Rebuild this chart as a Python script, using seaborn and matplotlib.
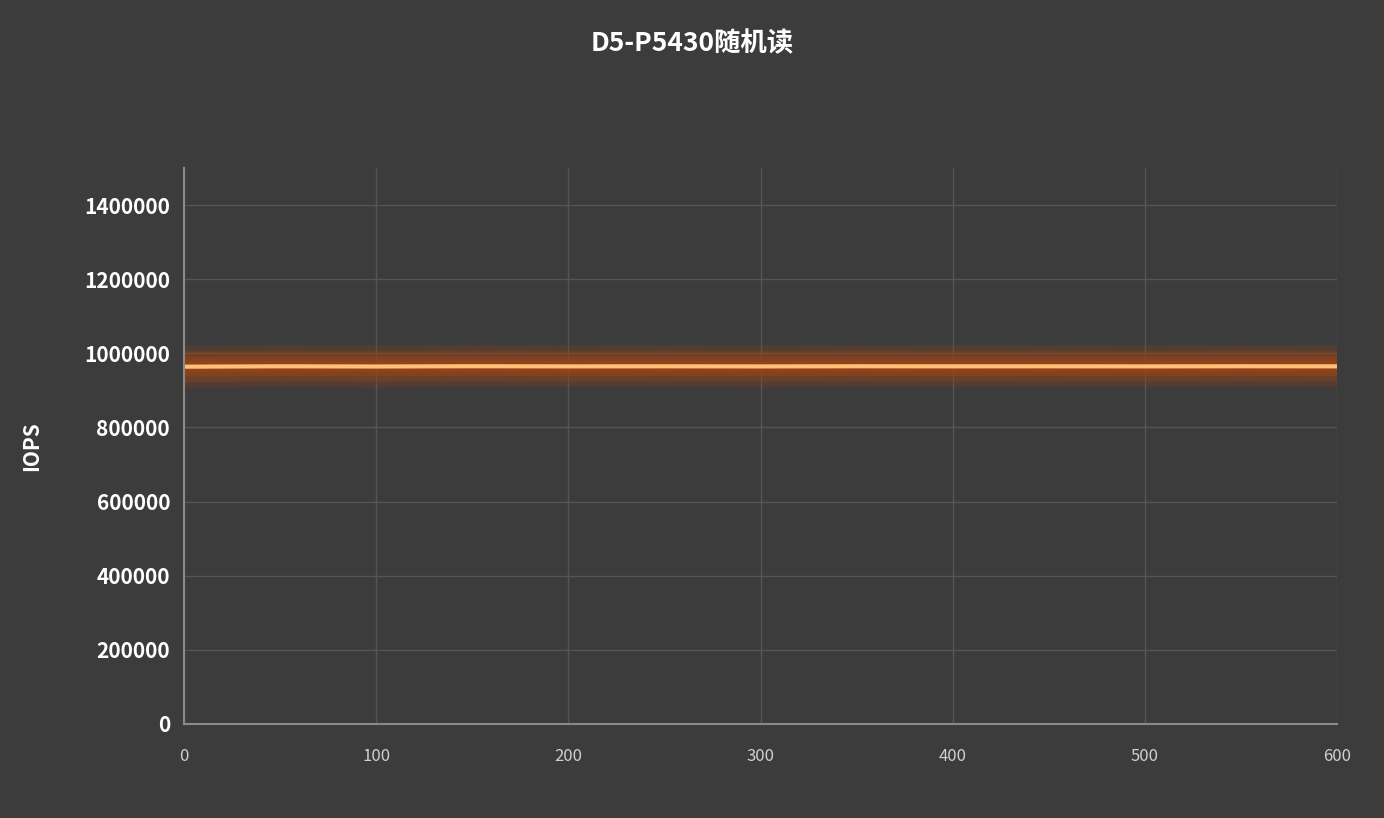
import matplotlib
matplotlib.use("Agg")
from matplotlib import pyplot as plt
import seaborn as sns
import pandas as pd

# time [s] and IOPS (flat line around 965k)
seconds = [0, 50, 100, 150, 200, 250, 300, 350, 400, 450, 500, 550, 600]
iops = [964000, 965000, 964500, 965200, 964800, 965000, 964700, 965100,
        964900, 965000, 964800, 965100, 964900]
yticks = [0, 200000, 400000, 600000, 800000, 1000000, 1200000, 1400000]
xticks = [0, 100, 200, 300, 400, 500, 600]

data = pd.DataFrame({'t': seconds, 'iops': iops})

sns.set_style('dark')
bg = '#3c3c3c'
plt.rcParams['font.family'] = ['Noto Sans CJK SC', 'DejaVu Sans']

fig = plt.figure(figsize=(13.84, 8.18), dpi=100, facecolor=bg)
ax = fig.add_axes([184/1384, 94/818, (1337-184)/1384, (724-168)/818])
ax.set_facecolor(bg)

# glow
for lw, a in [(30, 0.25), (22, 0.35), (14, 0.5), (8, 0.7)]:
    sns.lineplot(x='t', y='iops', data=data, ax=ax, color='#9a4318',
                 lw=lw, alpha=a, solid_capstyle='butt')
sns.lineplot(x='t', y='iops', data=data, ax=ax, color='#ffc078', lw=3)

ax.set_xlim(0, 600)
ax.set_ylim(0, 1500000)
ax.set_xticks(xticks)
ax.set_yticks(yticks)
ax.set_xticklabels([str(x) for x in xticks], color='#d0d0d0', fontsize=12)
ax.set_yticklabels([str(y) for y in yticks], color='white', fontsize=15,
                   fontweight='bold')
ax.grid(True, color='#555555', lw=1)
ax.tick_params(length=0, pad=10)
ax.tick_params(axis='x', pad=17)
for s in ['top', 'right']:
    ax.spines[s].set_visible(False)
for s in ['left', 'bottom']:
    ax.spines[s].set_color('#8a8a8a')
    ax.spines[s].set_linewidth(1.5)
ax.set_xlabel('')
ax.set_ylabel('IOPS', color='white', fontsize=15, fontweight='bold', labelpad=30)

fig.text(0.5, 0.947, 'D5-P5430随机读', color='white', fontsize=19,
         fontweight='bold', ha='center', va='center')

fig.savefig('out.png', dpi=100, facecolor=bg)
